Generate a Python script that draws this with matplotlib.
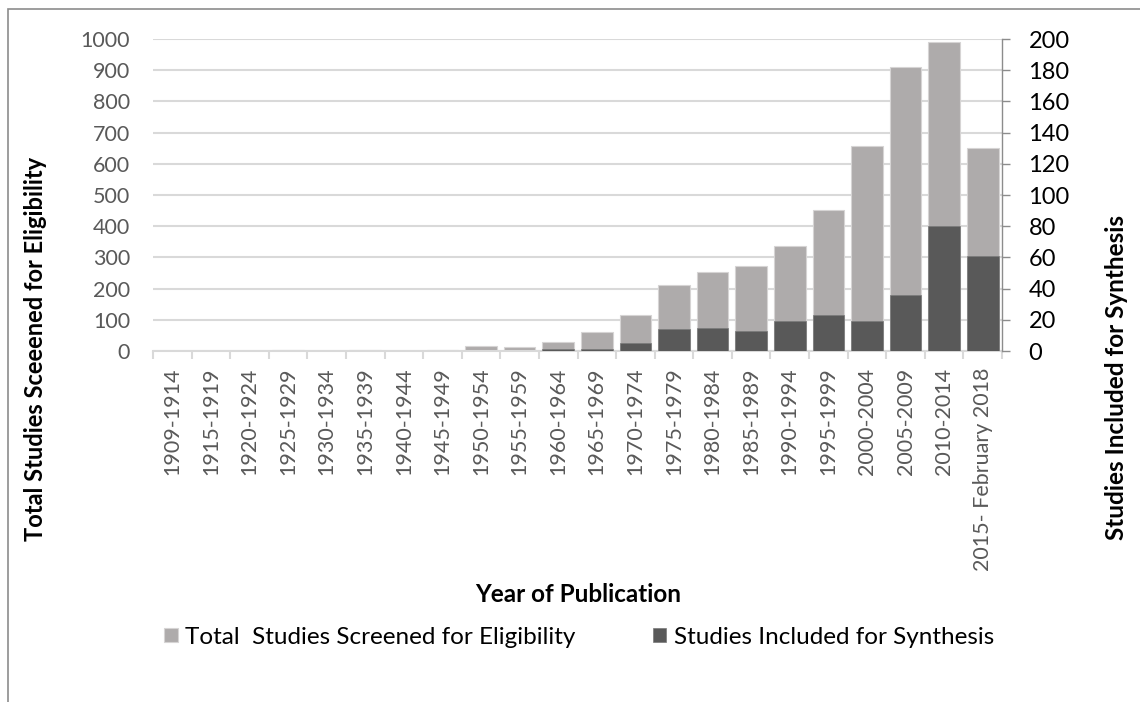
import matplotlib
matplotlib.use("Agg")
import matplotlib.pyplot as plt
import numpy as np
from matplotlib.patches import Rectangle

plt.rcParams['font.family'] = ['Lato', 'DejaVu Sans']

periods = ['1909-1914', '1915-1919', '1920-1924', '1925-1929', '1930-1934',
           '1935-1939', '1940-1944', '1945-1949', '1950-1954', '1955-1959',
           '1960-1964', '1965-1969', '1970-1974', '1975-1979', '1980-1984',
           '1985-1989', '1990-1994', '1995-1999', '2000-2004', '2005-2009',
           '2010-2014', '2015- February 2018']
screened = [0, 0, 0, 2, 0, 2, 0, 3, 17, 12, 29, 62, 116, 213, 253, 273,
            335, 451, 656, 909, 989, 651]
included = [0, 0, 0, 0, 0, 0, 0, 0, 0, 0, 1, 1, 5, 14, 15, 13, 19, 23,
            19, 36, 80, 61]

light = '#aeabab'
dark = '#595959'
grid_c = '#d9d9d9'

fig = plt.figure(figsize=(11.4, 7.02), dpi=100)
ax = fig.add_axes([153 / 1140, 1 - 351 / 702, (1002 - 153) / 1140, (351 - 39) / 702])
ax2 = ax.twinx()

x = np.arange(len(periods))
b1 = ax.bar(x, screened, width=0.82, color=light, edgecolor='#d6d4d4',
            linewidth=0.8, zorder=2, label='Total  Studies Screened for Eligibility')
b2 = ax2.bar(x, included, width=0.82, color=dark, edgecolor='#7a7a7a',
             linewidth=0.5, zorder=2, label='Studies Included for Synthesis')

ax.set_xlim(-0.5, len(periods) - 0.5)
ax.set_ylim(0, 1000)
ax2.set_ylim(0, 200)
ax.set_yticks(np.arange(0, 1001, 100))
ax2.set_yticks(np.arange(0, 201, 20))

ax.yaxis.grid(True, color=grid_c, linewidth=1.5, zorder=0)
ax.set_axisbelow(True)

for s in ['top', 'left', 'right']:
    ax.spines[s].set_visible(False)
for s in ['top', 'left', 'bottom']:
    ax2.spines[s].set_visible(False)
ax.spines['bottom'].set_color(grid_c)
ax.spines['bottom'].set_linewidth(1.5)
ax2.spines['right'].set_color('#8c8c8c')
ax2.spines['right'].set_linewidth(1)

ax.set_xticks(x)
ax.set_xticklabels(periods, rotation=90, fontsize=15.5, color=dark)
ax.set_xticks(np.arange(-0.5, len(periods)), minor=True)
ax.tick_params(axis='x', which='major', length=0, pad=12)
ax.tick_params(axis='x', which='minor', length=6, width=1.5, color=grid_c)
ax.tick_params(axis='y', length=0, pad=16.5, labelsize=15.5, labelcolor=dark)
ax2.tick_params(axis='y', length=6, width=1, color='#8c8c8c', pad=13,
                labelsize=17, labelcolor='black')

fig.text(36 / 1140, 1 - 349 / 702, 'Total Studies Sceeened for Eligibility',
         rotation=90, ha='center', va='center', fontsize=17, fontweight='bold')
fig.text(1117 / 1140, 1 - 378 / 702, 'Studies Included for Synthesis',
         rotation=90, ha='center', va='center', fontsize=17.5, fontweight='bold')
fig.text(578 / 1140, 1 - 594 / 702, 'Year of Publication',
         ha='center', va='center', fontsize=17.5, fontweight='bold')

fig.legend(handles=[b1, b2], loc='center', bbox_to_anchor=(579 / 1140, 1 - 637 / 702),
           ncol=2, frameon=False, fontsize=17.5, handlelength=0.55, handleheight=0.55,
           handletextpad=0.3, columnspacing=3.2)

fig.patches.append(Rectangle((8 / 1140, -0.05), 1.2, 1 - 9 / 702 + 0.05,
                             transform=fig.transFigure, fill=False,
                             edgecolor='#8c8c8c', linewidth=1.2))

fig.savefig('out.png', dpi=100)
